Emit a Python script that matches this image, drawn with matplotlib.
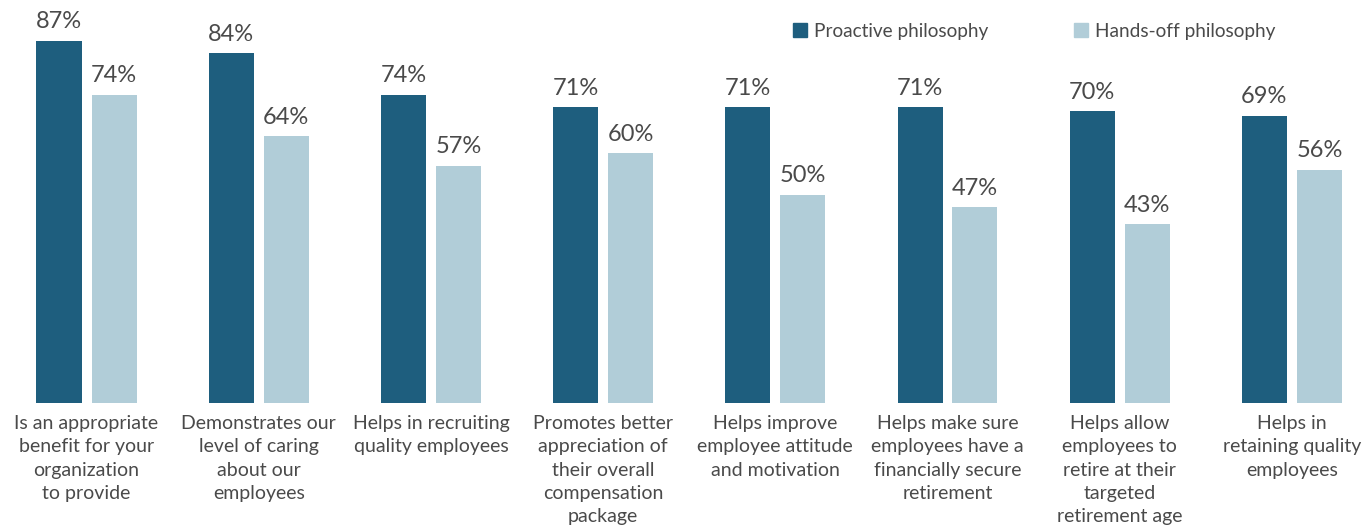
import matplotlib
matplotlib.use("Agg")
import matplotlib.pyplot as plt
import matplotlib.transforms as mtransforms
import numpy as np

categories = [
    "Is an appropriate\nbenefit for your\norganization\nto provide",
    "Demonstrates our\nlevel of caring\nabout our\nemployees",
    "Helps in recruiting\nquality employees",
    "Promotes better\nappreciation of\ntheir overall\ncompensation\npackage",
    "Helps improve\nemployee attitude\nand motivation",
    "Helps make sure\nemployees have a\nfinancially secure\nretirement",
    "Helps allow\nemployees to\nretire at their\ntargeted\nretirement age",
    "Helps in\nretaining quality\nemployees",
]
proactive = [87, 84, 74, 71, 71, 71, 70, 69]
hands_off = [74, 64, 57, 60, 50, 47, 43, 56]
series_names = ["Proactive philosophy", "Hands-off philosophy"]

dark = "#1e5e7e"
light = "#b1cdd8"
txt = "#4a4a4a"
plt.rcParams['font.family'] = ['Lato', 'DejaVu Sans']

W, H = 1371, 531
fig = plt.figure(figsize=(W / 100, H / 100), dpi=100)
base_px = 403
ax = fig.add_axes([0, (H - base_px) / H, 1, base_px / H])
px_per_pct = 4.165
ax.set_ylim(0, base_px / px_per_pct)
gap = 172.2
c0 = 86.5
ax.set_xlim(-c0 / gap, (W - c0) / gap)
ax.axis("off")

x = np.arange(len(categories))
bw = 45 / gap
off = 27.5 / gap
b1 = ax.bar(x - off, proactive, bw, color=dark, label=series_names[0])
b2 = ax.bar(x + off, hands_off, bw, color=light, label=series_names[1])

for bars, vals in ((b1, proactive), (b2, hands_off)):
    for r, v in zip(bars, vals):
        ax.annotate(f"{v}%", (r.get_x() + r.get_width() / 2, v), xytext=(0, 6),
                    textcoords="offset points", ha="center", va="bottom",
                    fontsize=17, color=txt)

trans = mtransforms.blended_transform_factory(ax.transData, fig.transFigure)
for xi, lab in zip(x, categories):
    ax.text(xi, (H - 415) / H, lab, transform=trans, ha="center", va="top",
            fontsize=14, color=txt, linespacing=1.45)

# legend
for (sx, name, col) in ((793, series_names[0], dark), (1074, series_names[1], light)):
    fig.patches.append(plt.Rectangle((sx / W, (H - 37) / H), 14 / W, 14 / H,
                                     transform=fig.transFigure, color=col))
    fig.text((sx + 21) / W, (H - 31) / H, name, fontsize=13.7, color=txt,
             ha="left", va="center")

fig.savefig("out.png", dpi=100)
